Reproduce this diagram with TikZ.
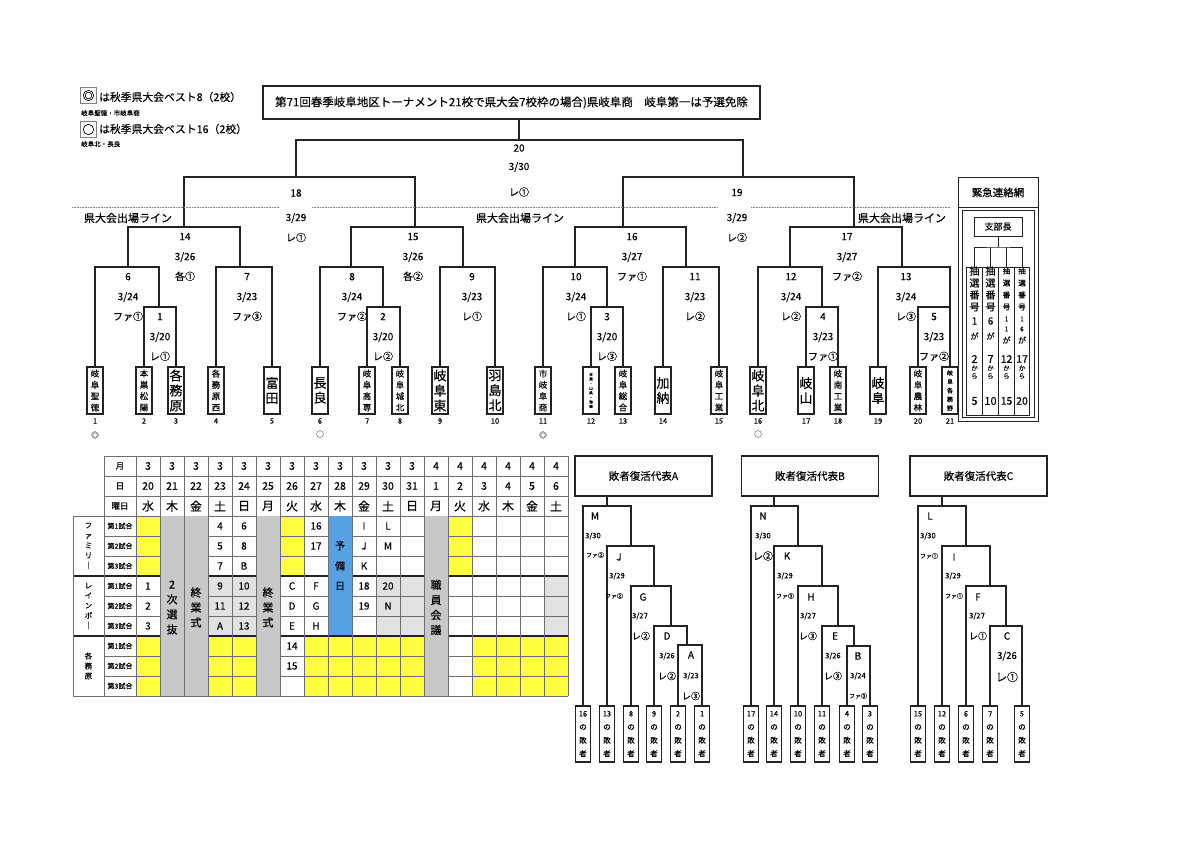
\documentclass[tikz,border=0pt]{standalone}
\usepackage{fontspec}
\setmainfont{Noto Sans CJK JP}[FakeBold=0.3]
\usetikzlibrary{calc}
\definecolor{line_color}{RGB}{35,35,35}
\definecolor{grid_color}{RGB}{110,110,110}
\definecolor{yellow_cell}{RGB}{255,255,64}
\definecolor{gray_cell}{RGB}{200,200,200}
\definecolor{light_cell}{RGB}{226,226,226}
\definecolor{blue_cell}{RGB}{86,160,228}
\tikzset{
  bracket/.style={draw=line_color, line width=1.1pt},
  boxline/.style={draw=line_color, line width=1pt},
  titlebox/.style={
    draw=line_color, line width=1.1pt, fill=white, inner sep=0pt,
    minimum width=497pt, minimum height=33pt, font=\fontsize{11.5}{13}\selectfont
  },
  legendmark/.style={draw=gray, line width=1pt, minimum size=15.5pt, inner sep=0pt, font=\fontsize{12}{12}\selectfont},
  legendtext/.style={inner sep=0pt, font=\fontsize{10.8}{12}\selectfont},
  legendnote/.style={inner sep=0pt, font=\fontsize{6.5}{7}\selectfont},
  matchlbl/.style={align=center, inner sep=0pt, font=\fontsize{10}{20}\selectfont},
  matchtxt/.style={inner sep=0pt, font=\fontsize{10}{12}\selectfont},
  lineguide/.style={draw=gray, line width=0.6pt, dash pattern=on 0.8pt off 0.8pt},
  linelabel/.style={inner sep=0pt, font=\fontsize{11}{12}\selectfont},
  teambox/.style={
    draw=line_color, line width=1.1pt, fill=white, inner sep=0pt,
    minimum width=16pt, minimum height=47pt, align=center
  },
  teamsmall/.style={teambox, font=\fontsize{8.5}{11.3}\selectfont},
  teamlarge/.style={teambox, font=\fontsize{13}{15}\selectfont},
  teamtiny/.style={teambox, font=\fontsize{6}{8.8}\selectfont},
  teamnum/.style={inner sep=0pt, font=\fontsize{7.5}{8}\selectfont},
  seedmark/.style={inner sep=0pt, text=gray, font=\fontsize{8}{8}\selectfont},
  chiefbox/.style={draw=line_color, line width=1pt, minimum width=48pt, minimum height=19pt, inner sep=0pt, font=\fontsize{9}{10}\selectfont},
  netbox/.style={draw=line_color, line width=1pt, minimum width=15.5pt, minimum height=148pt, inner sep=0pt},
  nettxt/.style={inner sep=0pt},
  gridline/.style={draw=grid_color, line width=0.6pt},
  groupline/.style={draw=line_color, line width=1.3pt},
  tablehead/.style={inner sep=0pt, font=\fontsize{8.5}{10}\selectfont},
  datetxt/.style={inner sep=0pt, font=\fontsize{10.5}{12}\selectfont},
  weektxt/.style={inner sep=0pt, font=\fontsize{12}{13}\selectfont},
  gametxt/.style={inner sep=0pt, font=\fontsize{7}{8}\selectfont},
  grouptxt/.style={align=center, inner sep=0pt, font=\fontsize{7.5}{10}\selectfont},
  mergetxt/.style={align=center, inner sep=0pt, font=\fontsize{11}{15}\selectfont},
  celltxt/.style={inner sep=0pt, font=\fontsize{10}{12}\selectfont},
  lossbox/.style={draw=line_color, line width=1.1pt, minimum width=137pt, minimum height=40pt, inner sep=0pt, font=\fontsize{10.5}{12}\selectfont},
  lossteam/.style={
    draw=line_color, line width=1.1pt, fill=white, inner sep=0pt, align=center,
    minimum width=15pt, minimum height=56pt, font=\fontsize{7.5}{13.3}\selectfont
  },
  lossletter/.style={inner sep=0pt, font=\fontsize{10}{12}\selectfont},
  lossdate/.style={inner sep=0pt, font=\fontsize{7.5}{9}\selectfont},
  losscode/.style={inner sep=0pt, font=\fontsize{9}{10}\selectfont},
  losssmall/.style={inner sep=0pt, font=\fontsize{6}{7}\selectfont}
}

\begin{document}
\begin{tikzpicture}[x=1pt, y=-1pt]
\fill[white] (0,0) rectangle (1200,848);
\useasboundingbox (0,0) rectangle (1200,848);

% legend
\node[legendmark] (mark8) at (88.5,95.5) {◎};
\node[legendtext, anchor=west] (leg8) at (99,97) {は秋季県大会ベスト8（2校）};
\node[legendnote, anchor=west] (note8) at (81,113) {岐阜聖徳・市岐阜商};
\node[legendmark] (mark16) at (88.5,129.5) {○};
\node[legendtext, anchor=west] (leg16) at (99,129) {は秋季県大会ベスト16（2校）};
\node[legendnote, anchor=west] (note16) at (81,144) {岐阜北・長良};

% title
\node[titlebox] (title) at (511.5,102.5) {第71回春季岐阜地区トーナメント21校で県大会7校枠の場合)県岐阜商　岐阜第一は予選免除};

% teams
\node[teamsmall] (team1) at (95,390.5) {岐\\阜\\聖\\徳};
\node[teamsmall] (team2) at (144,390.5) {本\\巣\\松\\陽};
\node[teamlarge] (team3) at (176,390.5) {各\\務\\原};
\node[teamsmall] (team4) at (216,390.5) {各\\務\\原\\西};
\node[teamlarge] (team5) at (272,390.5) {富\\田};
\node[teamlarge] (team6) at (320,390.5) {長\\良};
\node[teamsmall] (team7) at (367,390.5) {岐\\阜\\高\\専};
\node[teamsmall] (team8) at (400,390.5) {岐\\阜\\城\\北};
\node[teamlarge] (team9) at (440,390.5) {岐\\阜\\東};
\node[teamlarge] (team10) at (495,390.5) {羽\\島\\北};
\node[teamsmall] (team11) at (543,390.5) {市\\岐\\阜\\商};
\node[teambox, font=\fontsize{3.5}{4.6}\selectfont] (team12) at (591,390.5) {本\\巣\\・\\山\\県\\・\\海\\津};
\node[teamsmall] (team13) at (623,390.5) {岐\\阜\\総\\合};
\node[teamlarge] (team14) at (663,390.5) {加\\納};
\node[teamsmall] (team15) at (719,390.5) {岐\\阜\\工\\業};
\node[teamlarge] (team16) at (758,390.5) {岐\\阜\\北};
\node[teamlarge] (team17) at (806,390.5) {岐\\山};
\node[teamsmall] (team18) at (838,390.5) {岐\\南\\工\\業};
\node[teamlarge] (team19) at (878,390.5) {岐\\阜};
\node[teamsmall] (team20) at (918,390.5) {岐\\阜\\農\\林};
\node[teamtiny] (team21) at (950,390.5) {岐\\阜\\各\\務\\野};
\foreach \i/\x in {1/95,2/144,3/176,4/216,5/272,6/320,7/367,8/400,9/440,10/495,11/543,12/591,13/623,14/663,15/719,16/758,17/806,18/838,19/878,20/918,21/950}
  \node[teamnum] (num\i) at (\x,421) {\i};
\node[seedmark] (seed1) at (95,435) {◎};
\node[seedmark] (seed6) at (320,434) {○};
\node[seedmark] (seed11) at (543,435) {◎};
\node[seedmark] (seed16) at (758,434) {○};

% match points
\coordinate (m20) at (519,140);
\coordinate (m18) at (296,177);
\coordinate (m19) at (743,177);
\coordinate (m14) at (184,227);
\coordinate (m15) at (415,227);
\coordinate (m16) at (623,227);
\coordinate (m17) at (854,227);
\coordinate (m6) at (128,267);
\coordinate (m7) at (240,267);
\coordinate (m8) at (351,267);
\coordinate (m9) at (463,267);
\coordinate (m10) at (575,267);
\coordinate (m11) at (686,267);
\coordinate (m12) at (790,267);
\coordinate (m13) at (902,267);
\coordinate (m1) at (159,307);
\coordinate (m2) at (383,307);
\coordinate (m3) at (607,307);
\coordinate (m4) at (822,307);
\coordinate (m5) at (934,307);

% bracket
\draw[bracket] (title.south -| m20) -- (m20);
\draw[bracket] (m18) |- (m20) -| (m19);
\draw[bracket] (m14) |- (m18) -| (m15);
\draw[bracket] (m16) |- (m19) -| (m17);
\draw[bracket] (m6) |- (m14) -| (m7);
\draw[bracket] (m8) |- (m15) -| (m9);
\draw[bracket] (m10) |- (m16) -| (m11);
\draw[bracket] (m12) |- (m17) -| (m13);
\draw[bracket] (team1.north) |- (m6) -| (m1);
\draw[bracket] (team2.north) |- (m1) -| (team3.north);
\draw[bracket] (team4.north) |- (m7) -| (team5.north);
\draw[bracket] (team6.north) |- (m8) -| (m2);
\draw[bracket] (team7.north) |- (m2) -| (team8.north);
\draw[bracket] (team9.north) |- (m9) -| (team10.north);
\draw[bracket] (team11.north) |- (m10) -| (m3);
\draw[bracket] (team12.north) |- (m3) -| (team13.north);
\draw[bracket] (team14.north) |- (m11) -| (team15.north);
\draw[bracket] (team16.north) |- (m12) -| (m4);
\draw[bracket] (team17.north) |- (m4) -| (team18.north);
\draw[bracket] (team19.north) |- (m13) -| (team21.north);
\draw[bracket] (team20.north) |- (m5) -| (team21.north);

% match labels
\node[matchtxt] (no20) at (519,148) {20};
\node[matchtxt] (date20) at (519,167) {3/30};
\node[matchtxt] (code20) at (519,192) {レ①};
\node[matchtxt] (no18) at (296,193) {18};
\node[matchtxt] (date18) at (296,218) {3/29};
\node[matchtxt] (code18) at (296,237.5) {レ①};
\node[matchtxt] (no19) at (737,192.5) {19};
\node[matchtxt] (date19) at (737,218) {3/29};
\node[matchtxt] (code19) at (737,237.5) {レ②};
\node[matchlbl] (lbl14) at (185,257) {14\\3/26\\各①};
\node[matchlbl] (lbl15) at (413,257) {15\\3/26\\各②};
\node[matchlbl] (lbl16) at (632,257) {16\\3/27\\ファ①};
\node[matchlbl] (lbl17) at (847,257) {17\\3/27\\ファ②};
\node[matchlbl] (lbl6) at (128,297) {6\\3/24\\ファ①};
\node[matchlbl] (lbl7) at (247,297) {7\\3/23\\ファ③};
\node[matchlbl] (lbl8) at (352,297) {8\\3/24\\ファ②};
\node[matchlbl] (lbl9) at (472,297) {9\\3/23\\レ①};
\node[matchlbl] (lbl10) at (576,297) {10\\3/24\\レ①};
\node[matchlbl] (lbl11) at (695,297) {11\\3/23\\レ②};
\node[matchlbl] (lbl12) at (791,297) {12\\3/24\\レ②};
\node[matchlbl] (lbl13) at (906,297) {13\\3/24\\レ③};
\node[matchlbl] (lbl1) at (160,337) {1\\3/20\\レ①};
\node[matchlbl] (lbl2) at (383,337) {2\\3/20\\レ②};
\node[matchlbl] (lbl3) at (607,337) {3\\3/20\\レ③};
\node[matchlbl] (lbl4) at (823,337) {4\\3/23\\ファ①};
\node[matchlbl] (lbl5) at (934,337) {5\\3/23\\ファ②};

% qualifying line
\draw[lineguide] (72,207) -- (279,207);
\draw[lineguide] (312,207) -- (718,207);
\draw[lineguide] (751,207) -- (950,207);
\node[linelabel] (qline1) at (128,218) {県大会出場ライン};
\node[linelabel] (qline2) at (520,218) {県大会出場ライン};
\node[linelabel] (qline3) at (902,218) {県大会出場ライン};

% emergency network
\draw[boxline] (958,178) rectangle (1038,421);
\draw[boxline] (958,207) -- (1038,207);
\draw[boxline] (962,210) rectangle (1034,417);
\node[inner sep=0pt, font=\fontsize{10.5}{12}\selectfont] (kinkyu) at (998,192.5) {緊急連絡網};
\node[chiefbox] (chief) at (998,226.5) {支部長};
\coordinate (netsplit) at (998,247);
\node[netbox] (net1) at (974.5,341) {};
\node[netbox] (net2) at (990.5,341) {};
\node[netbox] (net3) at (1006.5,341) {};
\node[netbox] (net4) at (1022,341) {};
\draw[boxline] (chief.south) -- (netsplit);
\draw[boxline] (net1.north) |- (netsplit) -| (net4.north);
\draw[boxline] (net2.north) -- (net2.north |- netsplit);
\draw[boxline] (net3.north) -- (net3.north |- netsplit);
\foreach \x/\a/\b/\c in {974.5/1/2/5, 990.5/6/7/10} {
  \foreach \y/\t in {271/抽,283/選,295/番,307/号}
    \node[nettxt, font=\fontsize{10}{11}\selectfont] (chr\a-\y) at (\x,\y) {\t};
  \node[nettxt, font=\fontsize{10}{11}\selectfont] (from\a) at (\x,321) {\a};
  \node[nettxt, font=\fontsize{8}{9}\selectfont] (ga\a) at (\x,336) {が};
  \node[nettxt, font=\fontsize{11}{12}\selectfont] (first\a) at (\x,359) {\b};
  \node[nettxt, font=\fontsize{6.5}{7}\selectfont] (ka\a) at (\x,368) {か};
  \node[nettxt, font=\fontsize{6.5}{7}\selectfont] (ra\a) at (\x,376) {ら};
  \node[nettxt, font=\fontsize{11}{12}\selectfont] (last\a) at (\x,401) {\c};
}
\foreach \x/\a/\b/\c in {1006.5/1/12/15, 1022/6/17/20} {
  \foreach \y/\t in {271/抽,283/選,295/番,307/号}
    \node[nettxt, font=\fontsize{7.5}{8}\selectfont] (chr\b-\y) at (\x,\y) {\t};
  \node[nettxt, font=\fontsize{6.5}{7}\selectfont] (one\b) at (\x,319) {1};
  \node[nettxt, font=\fontsize{6.5}{7}\selectfont] (from\b) at (\x,329) {\a};
  \node[nettxt, font=\fontsize{8}{9}\selectfont] (ga\b) at (\x,340) {が};
  \node[nettxt, font=\fontsize{10.5}{12}\selectfont] (first\b) at (\x,359) {\b};
  \node[nettxt, font=\fontsize{6.5}{7}\selectfont] (ka\b) at (\x,368) {か};
  \node[nettxt, font=\fontsize{6.5}{7}\selectfont] (ra\b) at (\x,376) {ら};
  \node[nettxt, font=\fontsize{10.5}{12}\selectfont] (last\b) at (\x,401) {\c};
}

% schedule table
\foreach \r in {0,1,2} \foreach \c in {0,6,13}
  \fill[yellow_cell] ({136+24*\c},{516+20*\r}) rectangle ++(24,20);
\foreach \r in {6,7,8} \foreach \c in {0,3,4,7,8,9,10,11,14,15,16,17}
  \fill[yellow_cell] ({136+24*\c},{516+20*\r}) rectangle ++(24,20);
\foreach \r in {3,4,5} \foreach \c in {3,4,10,11,17}
  \fill[light_cell] ({136+24*\c},{516+20*\r}) rectangle ++(24,20);
\foreach \y in {456,476,496,536,556,596,616,656,676}
  \draw[gridline] (104,\y) -- (568,\y);
\foreach \y in {516,696} \draw[gridline] (73,\y) -- (568,\y);
\foreach \y in {576,636} \draw[groupline] (73,\y) -- (568,\y);
\foreach \c in {1,2,5,12}
  \fill[gray_cell] ({136+24*\c},516.4) rectangle ++(24,179.2);
\fill[blue_cell] ({136+24*8},516.4) rectangle ++(24,118.9);
\draw[gridline] (73,516) -- (73,696);
\draw[gridline] (104,456) -- (104,696);
\foreach \c in {0,...,18}
  \draw[gridline] ({136+24*\c},456) -- ({136+24*\c},696);

\node[tablehead] (hmonth) at (120,466) {月};
\node[tablehead] (hday) at (120,486) {日};
\node[tablehead] (hweek) at (120,506) {曜日};
\foreach \c/\m/\d/\w in {0/3/20/水,1/3/21/木,2/3/22/金,3/3/23/土,4/3/24/日,5/3/25/月,6/3/26/火,7/3/27/水,8/3/28/木,9/3/29/金,10/3/30/土,11/3/31/日,12/4/1/月,13/4/2/火,14/4/3/水,15/4/4/木,16/4/5/金,17/4/6/土} {
  \node[datetxt] (mon\c) at ({148+24*\c},466) {\m};
  \node[datetxt] (day\c) at ({148+24*\c},486) {\d};
  \node[weektxt] (wday\c) at ({148+24*\c},506) {\w};
}
\foreach \r/\g in {0/1,1/2,2/3,3/1,4/2,5/3,6/1,7/2,8/3}
  \node[gametxt] (game\r) at (120,{526+20*\r}) {第{\g}試合};
\node[grouptxt] (grpF) at (88.5,546) {フ\\ァ\\ミ\\リ\\｜};
\node[grouptxt] (grpR) at (88.5,606) {レ\\イ\\ン\\ボ\\｜};
\node[grouptxt] (grpK) at (88.5,666) {各\\務\\原};
\node[mergetxt] (senbatsu) at (172,607.5) {2\\次\\選\\抜};
\node[mergetxt] (shugyo1) at (196,607.5) {終\\業\\式};
\node[mergetxt] (shugyo2) at (268,607.5) {終\\業\\式};
\node[mergetxt] (kaigi) at (436,607.5) {職\\員\\会\\議};
\node[mergetxt, font=\fontsize{10}{20}\selectfont] (yobi) at (340,566) {予\\備\\日};
\foreach \c/\r/\t in {3/0/4,4/0/6,7/0/16,9/0/I,10/0/L,3/1/5,4/1/8,7/1/17,9/1/J,10/1/M,3/2/7,4/2/B,9/2/K,0/3/1,3/3/9,4/3/10,6/3/C,7/3/F,9/3/18,10/3/20,0/4/2,3/4/11,4/4/12,6/4/D,7/4/G,9/4/19,10/4/N,0/5/3,3/5/A,4/5/13,6/5/E,7/5/H,6/6/14,6/7/15}
  \node[celltxt] (cell\c-\r) at ({148+24*\c},{526+20*\r}) {\t};

% losers brackets
\node[lossbox] (lossA) at (643.5,476) {敗者復活代表A};
\node[lossbox] (lossB) at (810,476) {敗者復活代表B};
\node[lossbox] (lossC) at (978.5,476) {敗者復活代表C};
\foreach \i/\x in {16/583,13/607,8/631,9/654,2/678,1/702,17/751,14/774,10/798,11/822,4/847,3/870,15/918,12/942,6/966,7/990,5/1022}
  \node[lossteam] (lt\i) at (\x,734) {{\i}\\の\\敗\\者};
\coordinate (mM) at (607,506);
\coordinate (mJ) at (631,546);
\coordinate (mG) at (654,586);
\coordinate (mD) at (671,626);
\coordinate (mA) at (687,645);
\coordinate (mN) at (774,506);
\coordinate (mK) at (798,546);
\coordinate (mH) at (822,586);
\coordinate (mE) at (838,626);
\coordinate (mB) at (854,646);
\coordinate (mL) at (942,506);
\coordinate (mI) at (966,546);
\coordinate (mF) at (990,586);
\coordinate (mC) at (1006,626);
\draw[bracket] (lossA.south -| mM) -- (mM);
\draw[bracket] (lt16.north) |- (mM) -| (mJ);
\draw[bracket] (lt13.north) |- (mJ) -| (mG);
\draw[bracket] (lt8.north) |- (mG) -| (mD);
\draw[bracket] (lt9.north) |- (mD) -| (mA);
\draw[bracket] (lt2.north) |- (mA) -| (lt1.north);
\draw[bracket] (lossB.south -| mN) -- (mN);
\draw[bracket] (lt17.north) |- (mN) -| (mK);
\draw[bracket] (lt14.north) |- (mK) -| (mH);
\draw[bracket] (lt10.north) |- (mH) -| (mE);
\draw[bracket] (lt11.north) |- (mE) -| (mB);
\draw[bracket] (lt4.north) |- (mB) -| (lt3.north);
\draw[bracket] (lossC.south -| mL) -- (mL);
\draw[bracket] (lt15.north) |- (mL) -| (mI);
\draw[bracket] (lt12.north) |- (mI) -| (mF);
\draw[bracket] (lt6.north) |- (mF) -| (mC);
\draw[bracket] (lt7.north) |- (mC) -| (lt5.north);
\foreach \nm/\x/\y in {M/595/516,J/619/557,G/643/597,D/667/636,A/691/655,N/763/516,K/787/556,H/811/597,E/835/636,B/858/656,L/930/516,I/954/557,F/978/597,C/1007/636}
  \node[lossletter] (let\nm) at (\x,\y) {\nm};
\foreach \nm/\x/\y/\dt in {M/593/536/{3/30},J/617/576/{3/29},G/640/616/{3/27},D/667/656/{3/26},A/691/676/{3/23},N/763/536/{3/30},K/785/576/{3/29},H/808/616/{3/27},E/833/656/{3/26},B/858/676/{3/24},L/928/536/{3/30},I/953/576/{3/29},F/977/616/{3/27}}
  \node[lossdate] (dt\nm) at (\x,\y) {\dt};
\node[lossdate, font=\fontsize{9.5}{11}\selectfont] (dtC) at (1007,656) {3/26};
\foreach \nm/\x/\y/\cd in {M/595/555/ファ②,J/614/596/ファ②,K/785/596/ファ③,B/858/696/ファ③,L/929/556/ファ①,I/954/596/ファ①}
  \node[losssmall] (cd\nm) at (\x,\y) {\cd};
\foreach \nm/\x/\y/\cd in {G/641/636/レ②,D/667/676/レ②,A/691/696/レ③,H/808/636/レ③,E/833/676/レ③,F/978/636/レ①}
  \node[losscode] (cd\nm) at (\x,\y) {\cd};
\node[losscode, font=\fontsize{10}{11}\selectfont] (cdN) at (763,556) {レ②};
\node[losscode, font=\fontsize{11}{12}\selectfont] (cdC) at (1007,677) {レ①};

\end{tikzpicture}
\end{document}
